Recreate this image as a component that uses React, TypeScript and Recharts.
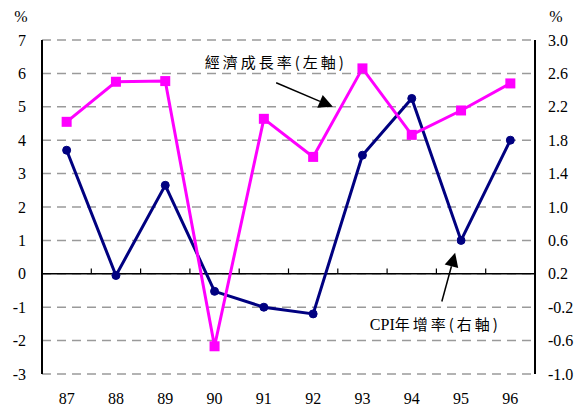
import React from 'react';
import {
  ComposedChart, Line, XAxis, YAxis, CartesianGrid, ReferenceLine, ReferenceDot,
} from 'recharts';

const years = [87, 88, 89, 90, 91, 92, 93, 94, 95, 96];
const gdpGrowth = [4.55, 5.75, 5.77, -2.17, 4.64, 3.5, 6.15, 4.16, 4.89, 5.7];
const cpiGrowth = [1.68, 0.18, 1.26, -0.01, -0.2, -0.28, 1.62, 2.3, 0.6, 1.8];
const leftTicks = [-3, -2, -1, 0, 1, 2, 3, 4, 5, 6, 7];
const rightTicks = [-1.0, -0.6, -0.2, 0.2, 0.6, 1.0, 1.4, 1.8, 2.2, 2.6, 3.0];
const bandEdges = [87.5, 88.5, 89.5, 90.5, 91.5, 92.5, 93.5, 94.5, 95.5];
const gdpLabel = { latin: '', cjk: '經濟成長率(左軸)' };
const cpiLabel = { latin: 'CPI', cjk: '年增率(右軸)' };
// annotation anchors in data coordinates (x: year, y: left axis %)
const gdpArrow = [{ x: 91.25, y: 5.72 }, { x: 92.4, y: 5.0 }];
const cpiArrow = [{ x: 94.61, y: -0.83 }, { x: 94.88, y: 0.63 }];
const gdpText = { x: 89.8, y: 6.32 };
const cpiText = { x: 93.15, y: -1.5 };

const data = years.map((y, i) => ({ year: y, gdp: gdpGrowth[i], cpi: cpiGrowth[i] }));

const SERIF = 'Liberation Serif, serif';
const CJK = 'Noto Sans CJK TC, sans-serif';

const Square = (props: any) => {
  const { cx, cy } = props;
  if (cx == null || cy == null) return null;
  return <rect x={cx - 5} y={cy - 5} width={10} height={10} fill="#FF00FF" />;
};

const Arrow = (props: any) => {
  const { x1, y1, x2, y2 } = props;
  const dx = x2 - x1;
  const dy = y2 - y1;
  const len = Math.sqrt(dx * dx + dy * dy) || 1;
  const ux = dx / len;
  const uy = dy / len;
  const hl = 14;
  const hw = 7;
  const bx = x2 - ux * hl;
  const by = y2 - uy * hl;
  const px = -uy;
  const py = ux;
  return (
    <g>
      <line x1={x1} y1={y1} x2={bx} y2={by} stroke="#000" strokeWidth={1.5} />
      <polygon
        points={`${x2},${y2} ${bx + px * hw},${by + py * hw} ${bx - px * hw},${by - py * hw}`}
        fill="#000"
      />
    </g>
  );
};

const TickMark = (props: any) => {
  const { x1, y1, x2, y2 } = props;
  return <line x1={x1} y1={y1} x2={x2} y2={y2} stroke="#000" strokeWidth={1.2} />;
};

const makeText = (lbl: { latin: string; cjk: string }) => (props: any) => {
  const { cx, cy } = props;
  return (
    <text x={cx} y={cy} dy="0.35em" fill="#000" style={{ fontFamily: SERIF, fontSize: 16 }}>
      {lbl.latin ? <tspan style={{ fontFamily: SERIF, fontSize: 16 }}>{lbl.latin}</tspan> : null}
      <tspan style={{ fontFamily: CJK, fontSize: 15, letterSpacing: 3 }}>{lbl.cjk}</tspan>
    </text>
  );
};

const tickStyle = { fill: '#000', fontSize: 16, fontFamily: SERIF, style: { fontFamily: SERIF } };

export default function App() {
  return (
    <div style={{ position: 'absolute', left: 0, top: 0, background: '#fff', fontFamily: SERIF }}>
      <ComposedChart
        width={585}
        height={406}
        data={data}
        margin={{ top: 40, right: 0, bottom: 0, left: 0 }}
        style={{ fontFamily: SERIF }}
      >
        <CartesianGrid
          vertical={false}
          stroke="#9a9a9a"
          strokeWidth={1.5}
          strokeDasharray="9 6"
        />
        <XAxis
          dataKey="year"
          type="number"
          domain={[86.5, 96.5]}
          ticks={years}
          height={32}
          axisLine={false}
          tickLine={false}
          tickMargin={13}
          tick={tickStyle}
        />
        <YAxis
          domain={[-3, 7]}
          ticks={leftTicks}
          width={42}
          axisLine={{ stroke: '#000', strokeWidth: 2 }}
          tickLine={false}
          tickMargin={10}
          interval={0}
          tick={tickStyle}
          label={{ value: '%', position: 'top', offset: 18, fill: '#000', fontSize: 16, style: { fontFamily: SERIF } }}
        />
        <YAxis
          yAxisId="right"
          orientation="right"
          domain={[-1, 3]}
          ticks={rightTicks}
          width={50}
          axisLine={{ stroke: '#000', strokeWidth: 2 }}
          tickLine={false}
          tickMargin={7}
          interval={0}
          tickFormatter={(v: number) => v.toFixed(1)}
          tick={tickStyle}
          label={{ value: '%', position: 'top', offset: 18, dx: -4, fill: '#000', fontSize: 16, style: { fontFamily: SERIF } }}
        />
        <ReferenceLine y={0} stroke="#000" strokeWidth={1.5} />
        {bandEdges.map((e) => (
          <ReferenceLine
            key={e}
            segment={[{ x: e, y: 0 }, { x: e, y: 0.16 }]}
            shape={TickMark}
          />
        ))}
        <Line
          yAxisId="right"
          dataKey="cpi"
          stroke="#000080"
          strokeWidth={3}
          dot={{ r: 4, fill: '#000080', stroke: '#000080', strokeWidth: 1 }}
          isAnimationActive={false}
        />
        <Line
          dataKey="gdp"
          stroke="#FF00FF"
          strokeWidth={3}
          dot={<Square />}
          isAnimationActive={false}
        />
        <ReferenceLine segment={gdpArrow} shape={Arrow} />
        <ReferenceLine segment={cpiArrow} shape={Arrow} />
        <ReferenceDot x={gdpText.x} y={gdpText.y} r={0} shape={makeText(gdpLabel)} />
        <ReferenceDot x={cpiText.x} y={cpiText.y} r={0} shape={makeText(cpiLabel)} />
      </ComposedChart>
    </div>
  );
}
